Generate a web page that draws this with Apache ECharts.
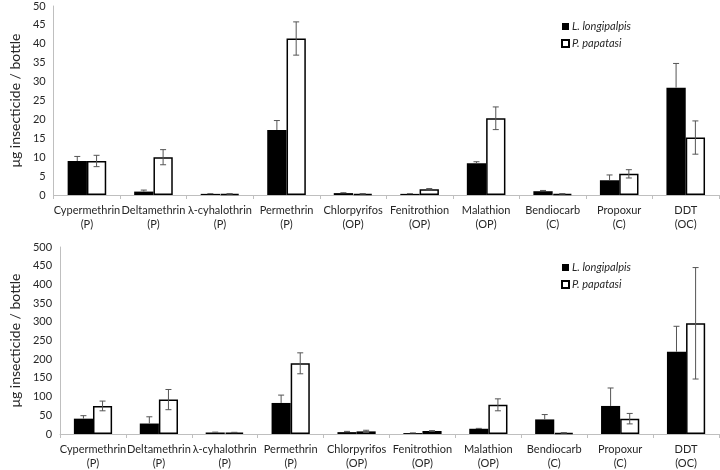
<!DOCTYPE html>
<html><head><meta charset="utf-8">
<script src="https://cdn.jsdelivr.net/npm/echarts@6/dist/echarts.min.js"></script>
<style>html,body{margin:0;padding:0;background:#fff}#c{width:720px;height:470px}</style>
</head><body><div id="c"></div>
<script>
const insecticides = ["Cypermethrin","Deltamethrin","λ-cyhalothrin","Permethrin","Chlorpyrifos","Fenitrothion","Malathion","Bendiocarb","Propoxur","DDT"];
const classes = ["P","P","P","P","OP","OP","OP","C","C","OC"];
const seriesNames = ["L. longipalpis","P. papatasi"];
// top panel
const topLongi = [9.0,0.9,0.3,17.2,0.5,0.3,8.4,1.0,3.9,28.4];
const topLongiErr = [1.2,0.4,0.05,2.5,0.1,0.05,0.4,0.2,1.4,6.4];
const topPapa = [9.0,10.0,0.3,41.4,0.3,1.5,20.3,0.3,5.6,15.2];
const topPapaErr = [1.5,2.0,0.05,4.4,0.05,0.2,3.0,0.05,1.1,4.4];
const topTicks = {min:0,max:50,interval:5};
// bottom panel
const botLongi = [41,28,4,83,5,2.5,14,39,75,220];
const botLongiErr = [8,18,1,21,2,0.5,1,13,48,68];
const botPapa = [75,92,4,189,7,8,78,3,41,296];
const botPapaErr = [13,27,0.5,28,3,1,16,0.5,14,149];
const botTicks = {min:0,max:500,interval:50};

const font = "Lato, 'Open Sans', sans-serif";
const textColor = '#262626';
const catLabels = insecticides.map((n,i)=>n+'\n('+classes[i]+')');

function errData(vals, errs){ return vals.map((v,i)=>[i, v, errs[i]]); }
function errSeries(vals, errs, side, gi, upOnly){
  return {
    type:'custom', xAxisIndex:gi, yAxisIndex:gi, z:5,
    data: errData(vals, errs),
    renderItem: function(params, api){
      const i = api.value(0), v = api.value(1), e = api.value(2);
      const top = api.coord([i, v+e]);
      const bot = api.coord([i, upOnly ? v : Math.max(0, v-e)]);
      const bw = api.size([1,0])[0];
      const x = top[0] + side*bw*0.145;
      const cap = 3;
      const st = {stroke:'#555', lineWidth:1};
      const ch = [
        {type:'line', shape:{x1:x,y1:top[1],x2:x,y2:bot[1]}, style:st},
        {type:'line', shape:{x1:x-cap,y1:top[1],x2:x+cap,y2:top[1]}, style:st}
      ];
      if(!upOnly) ch.push({type:'line', shape:{x1:x-cap,y1:bot[1],x2:x+cap,y2:bot[1]}, style:st});
      return {type:'group', children:ch};
    }
  };
}
function barSeries(name, vals, gi, white){
  return {
    name:name, type:'bar', xAxisIndex:gi, yAxisIndex:gi, data:vals,
    barGap:'0%', barCategoryGap:'42%',
    itemStyle: white ? {color:'#fff', borderColor:'#000', borderWidth:1.5} : {color:'#000'}
  };
}
function xAxis(gi){
  return {type:'category', gridIndex:gi, data:catLabels,
    axisLine:{lineStyle:{color:'#bfbfbf'}},
    axisTick:{show:true, length:4, lineStyle:{color:'#bfbfbf'}},
    axisLabel:{color:textColor, fontFamily:font, fontSize:11, lineHeight:14, margin:8, interval:0}
  };
}
function yAxis(gi, t){
  return {type:'value', gridIndex:gi, min:t.min, max:t.max, interval:t.interval,
    name:'μg insecticide / bottle', nameLocation:'middle', nameGap:27, nameRotate:90,
    nameTextStyle:{color:textColor, fontFamily:font, fontSize:14},
    axisLine:{show:true, lineStyle:{color:'#bfbfbf'}},
    axisTick:{show:false},
    splitLine:{show:false},
    axisLabel:{color:textColor, fontFamily:font, fontSize:11, margin:8}
  };
}
function legend(top){
  return {data:seriesNames.map(n=>({name:n})), orient:'vertical', left:556, top:top,
    itemWidth:7, itemHeight:7, itemGap:6, icon:'rect',
    textStyle:{color:textColor, fontFamily:font, fontSize:11, fontStyle:'italic', padding:[0,0,0,-2]}};
}
const chart = echarts.init(document.getElementById('c'), null, {renderer:'canvas'});
chart.setOption({
  animation:false,
  grid:[
    {left:42, right:1, top:6, height:189},
    {left:42, right:1, top:247, height:189}
  ],
  legend:[legend(16), legend(257)],
  xAxis:[xAxis(0), xAxis(1)],
  yAxis:[yAxis(0, topTicks), yAxis(1, botTicks)],
  series:[
    barSeries(seriesNames[0], topLongi, 0, false),
    barSeries(seriesNames[1], topPapa, 0, true),
    barSeries(seriesNames[0], botLongi, 1, false),
    barSeries(seriesNames[1], botPapa, 1, true),
    errSeries(topLongi, topLongiErr, -1, 0, true),
    errSeries(topPapa, topPapaErr, 1, 0, false),
    errSeries(botLongi, botLongiErr, -1, 1, true),
    errSeries(botPapa, botPapaErr, 1, 1, false)
  ]
});
</script></body></html>
